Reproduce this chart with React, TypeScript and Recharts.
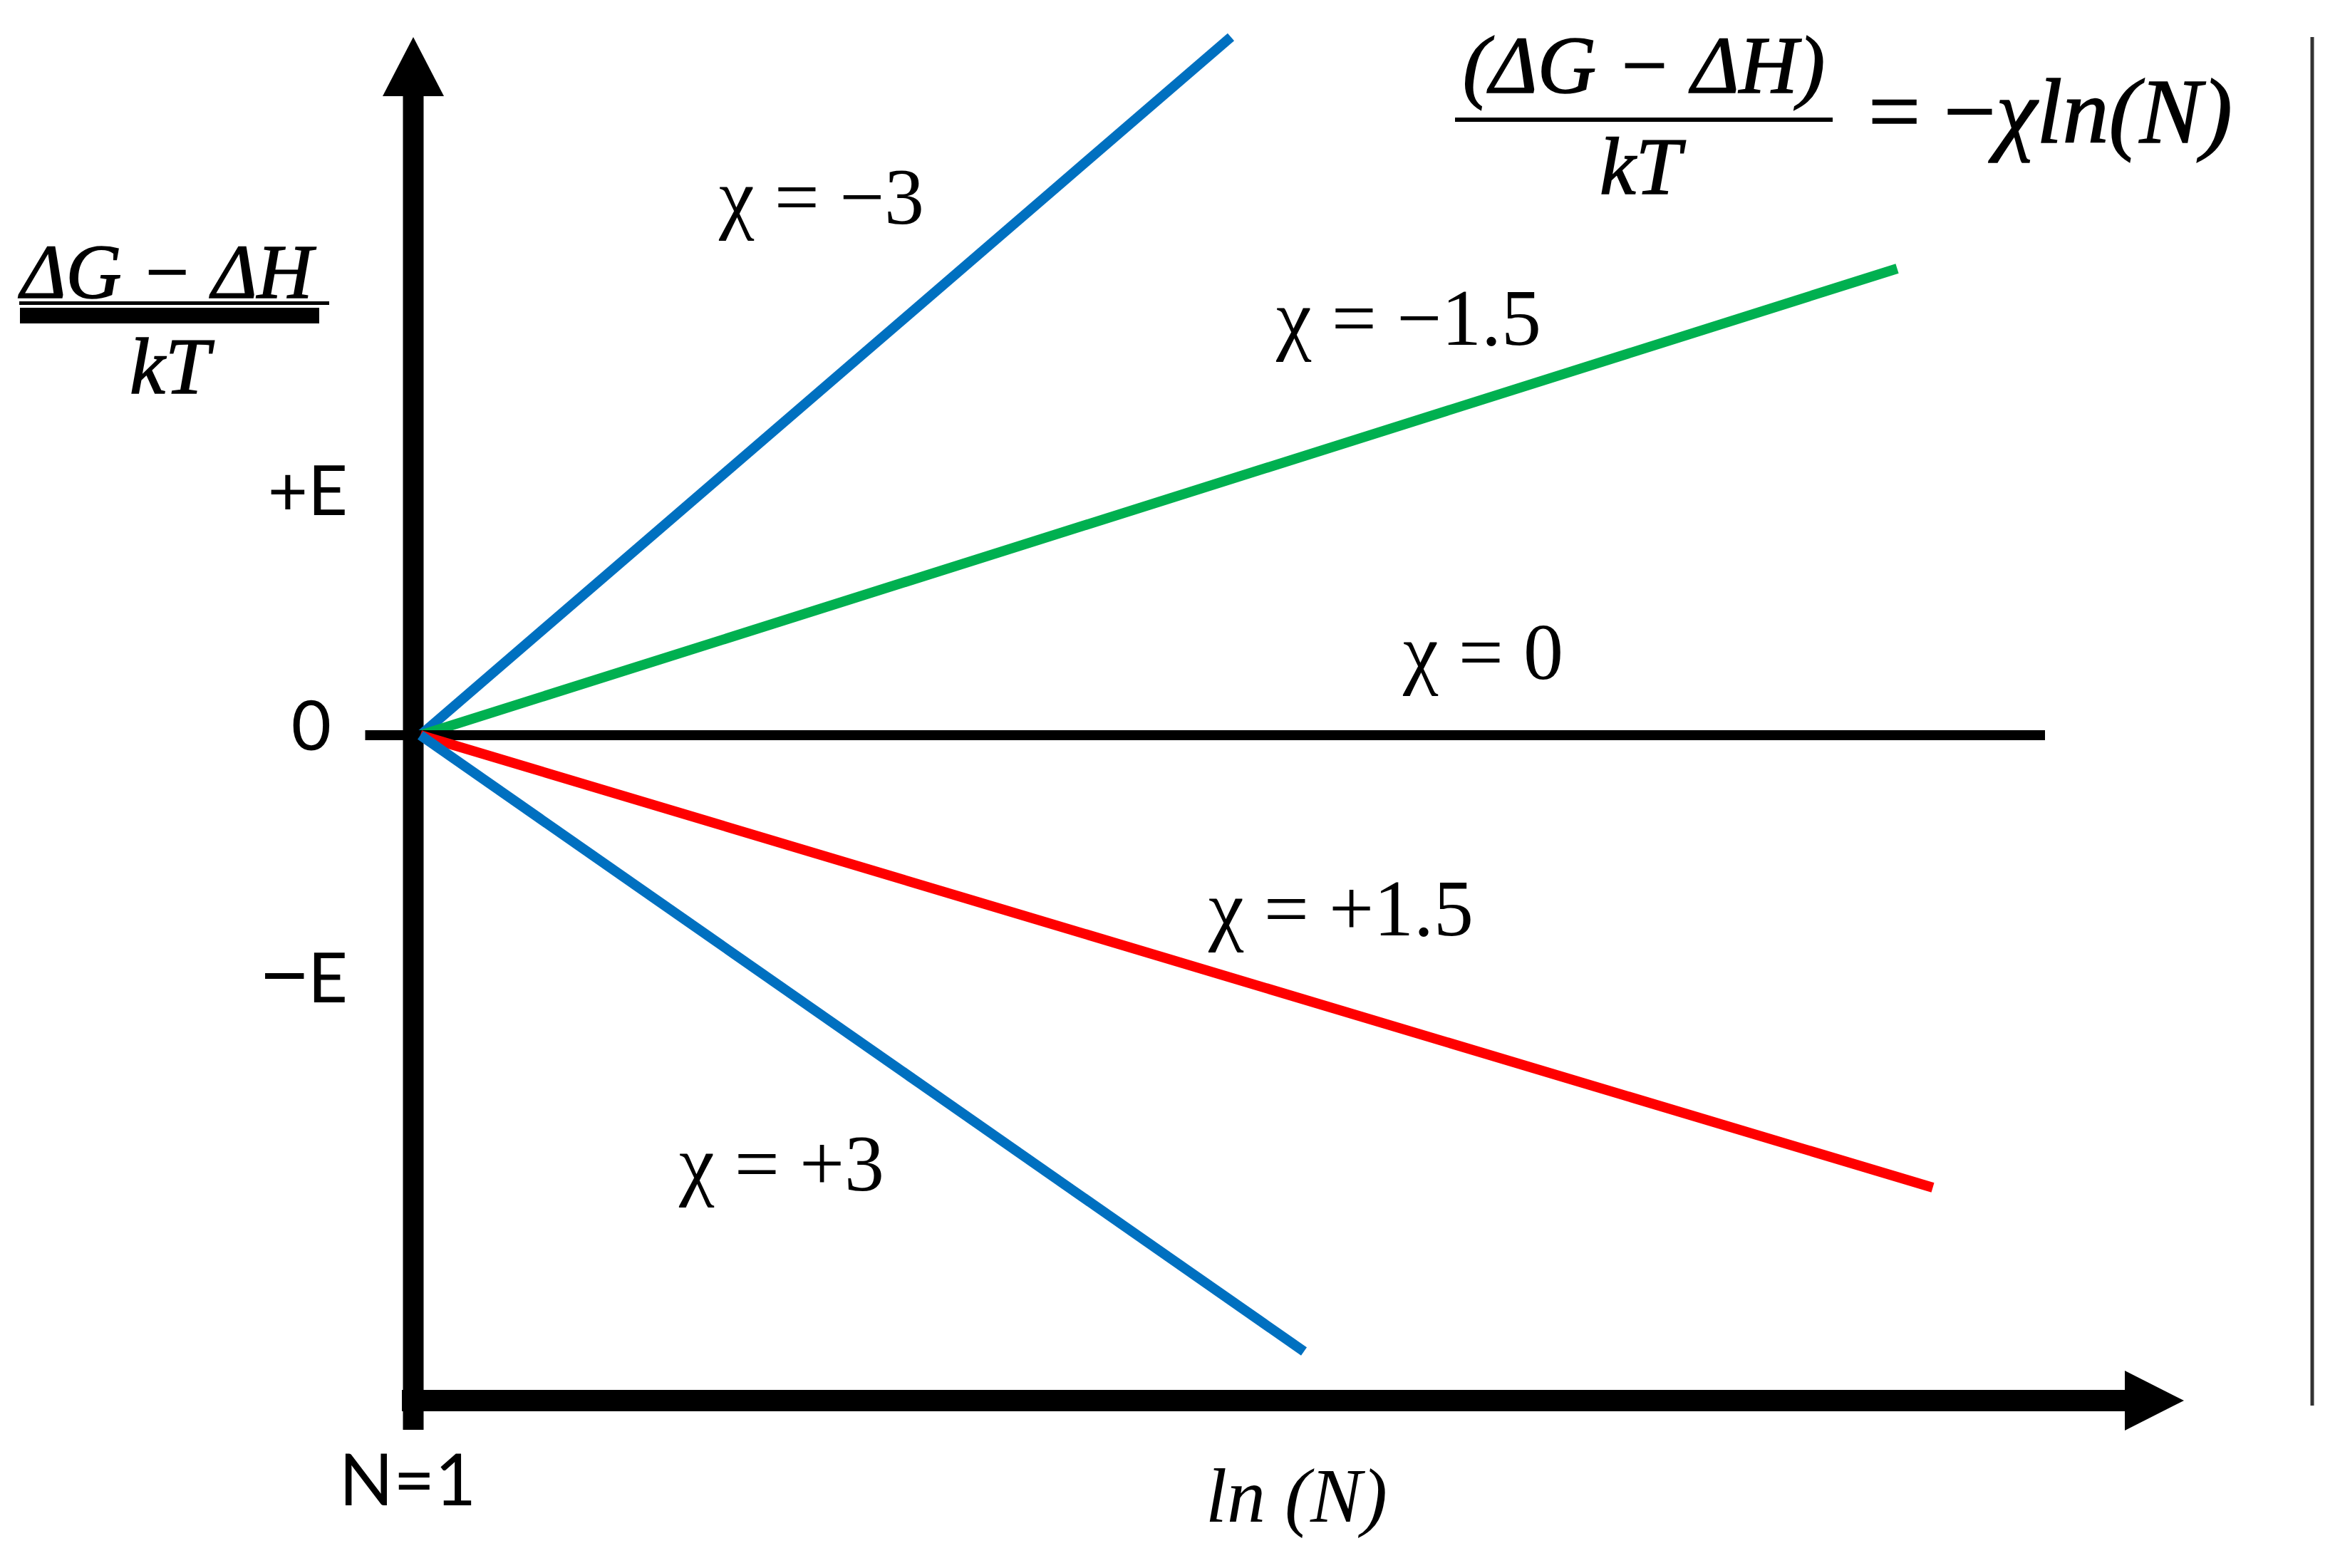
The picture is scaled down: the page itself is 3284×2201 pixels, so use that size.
import { LineChart, Line, XAxis, YAxis, ReferenceLine, ReferenceDot } from "recharts";

// chi values for each line, and where each line ends (x = ln N, y = (ΔG-ΔH)/kT, arbitrary units)
const chiValues = [-3, -1.5, 0, 1.5, 3];
const seriesColors = ["#0070C0", "#00B050", "#000000", "#FF0000", "#0070C0"];
const startLnN = [0.04, 0.04, -0.27, 0.04, 0.04];
const endLnN = [4.59, 8.33, 9.16, 8.53, 5.0];
const endEnergy = [3.92, 2.62, 0, -2.54, -3.46];

const yTickLabels = ["+E", "0", "−E"];
const xTickLabel = "N=1";
const xAxisTitle = "ln (N)";

// axis geometry in data units
const yAxisSpan = [-3.9, 3.59];
const yArrowTip = 3.92;
const xAxisLevel = -3.736;
const xAxisSpan = [-0.064, 9.61];
const xArrowTip = 9.94;
const frameX = 10.66;
const frameSpan = [-3.764, 3.92];

const W = 3284;
const H = 2201;
const SERIF = "'Liberation Serif', 'Times New Roman', serif";
const SANS = "Lato, 'Open Sans', sans-serif";

const chiLabelPos = [
  [1009, 314],
  [1791, 484],
  [1969, 953],
  [1696, 1313],
  [953, 1671],
];
const yTickPos: [number, number, "end" | "middle"][] = [
  [488, 723, "end"],
  [437, 1053, "middle"],
  [488, 1407, "end"],
];

const fmtChi = (c: number) => (c === 0 ? "0" : c < 0 ? `−${Math.abs(c)}` : `+${c}`);

const series = chiValues.map((chi, i) => ({
  chi,
  color: seriesColors[i],
  width: chi === 0 ? 14 : 14,
  data: [
    { x: startLnN[i], y: 0 },
    { x: endLnN[i], y: endEnergy[i] },
  ],
}));

const UpArrow = (p: any) => (
  <polygon points={`${p.cx},${p.cy} ${p.cx - 43},${p.cy + 83} ${p.cx + 43},${p.cy + 83}`} fill="#000" />
);
const RightArrow = (p: any) => (
  <polygon points={`${p.cx},${p.cy} ${p.cx - 83},${p.cy - 42} ${p.cx - 83},${p.cy + 42}`} fill="#000" />
);

// math-ish text: slightly heavier than plain Liberation Serif
const mathText = { fontFamily: SERIF, fill: "#000", stroke: "#000", strokeWidth: 1.6 };

export default function App() {
  return (
    <div style={{ position: "absolute", left: 0, top: 0, width: W, height: H, background: "#fff" }}>
      <LineChart width={W} height={H} margin={{ top: 32, right: 4, bottom: 169, left: 330 }}>
        <XAxis type="number" dataKey="x" domain={[-1, 10.8]} allowDataOverflow hide />
        <YAxis type="number" dataKey="y" domain={[-4, 4]} allowDataOverflow hide />
        <ReferenceLine
          segment={[{ x: 0, y: yAxisSpan[0] }, { x: 0, y: yAxisSpan[1] }]}
          stroke="#000"
          strokeWidth={29}
        />
        <ReferenceLine
          segment={[{ x: xAxisSpan[0], y: xAxisLevel }, { x: xAxisSpan[1], y: xAxisLevel }]}
          stroke="#000"
          strokeWidth={30}
        />
        <ReferenceLine
          segment={[{ x: frameX, y: frameSpan[0] }, { x: frameX, y: frameSpan[1] }]}
          stroke="#333"
          strokeWidth={5}
        />
        <ReferenceDot x={0} y={yArrowTip} r={1} shape={UpArrow} />
        <ReferenceDot x={xArrowTip} y={xAxisLevel} r={1} shape={RightArrow} />
        {series.map((s) => (
          <Line
            key={s.chi}
            data={s.data}
            dataKey="y"
            type="linear"
            stroke={s.color}
            strokeWidth={s.width}
            dot={false}
            activeDot={false}
            isAnimationActive={false}
          />
        ))}
      </LineChart>

      <svg
        width={W}
        height={H}
        style={{ position: "absolute", left: 0, top: 0, pointerEvents: "none" }}
      >
        {series.map((s, i) => (
          <text key={s.chi} x={chiLabelPos[i][0]} y={chiLabelPos[i][1]} fontFamily={SERIF} fontSize={112} fill="#000">
            {`χ = ${fmtChi(s.chi)}`}
          </text>
        ))}

        {yTickLabels.map((t, i) => (
          <text key={t} x={yTickPos[i][0]} y={yTickPos[i][1]} textAnchor={yTickPos[i][2]} fontFamily={SANS} fontSize={97} fill="#000">
            {t.startsWith("−") ? (
              <>
                <tspan fontFamily="'Liberation Sans', sans-serif" fontSize={112}>−</tspan>
                {t.slice(1)}
              </>
            ) : (
              t
            )}
          </text>
        ))}
        <text x={572} y={2113} textAnchor="middle" fontFamily={SANS} fontSize={100} fill="#000">
          {xTickLabel}
        </text>
        <text x={1692} y={2136} fontFamily={SERIF} fontStyle="italic" fontSize={108} fill="#000">
          {xAxisTitle}
        </text>

        {/* y-axis title */}
        <text x={234} y={418} textAnchor="middle" fontStyle="italic" fontSize={108} {...mathText}>
          ΔG − ΔH
        </text>
        <rect x={27} y={423} width={435} height={5} fill="#000" />
        <rect x={28} y={432} width={420} height={22} fill="#000" />
        <text x={238} y={552} textAnchor="middle" fontStyle="italic" fontSize={112} {...mathText}>
          kT
        </text>

        {/* formula top right */}
        <text x={2307} y={130} textAnchor="middle" fontStyle="italic" fontSize={114} {...mathText}>
          (ΔG − ΔH)
        </text>
        <rect x={2042} y={165} width={530} height={6} fill="#000" />
        <text x={2302} y={272} textAnchor="middle" fontStyle="italic" fontSize={114} {...mathText}>
          kT
        </text>
        <text x={2622} y={200} fontSize={130} {...mathText}>
          = −<tspan fontStyle="italic">χln(N)</tspan>
        </text>
      </svg>
    </div>
  );
}
